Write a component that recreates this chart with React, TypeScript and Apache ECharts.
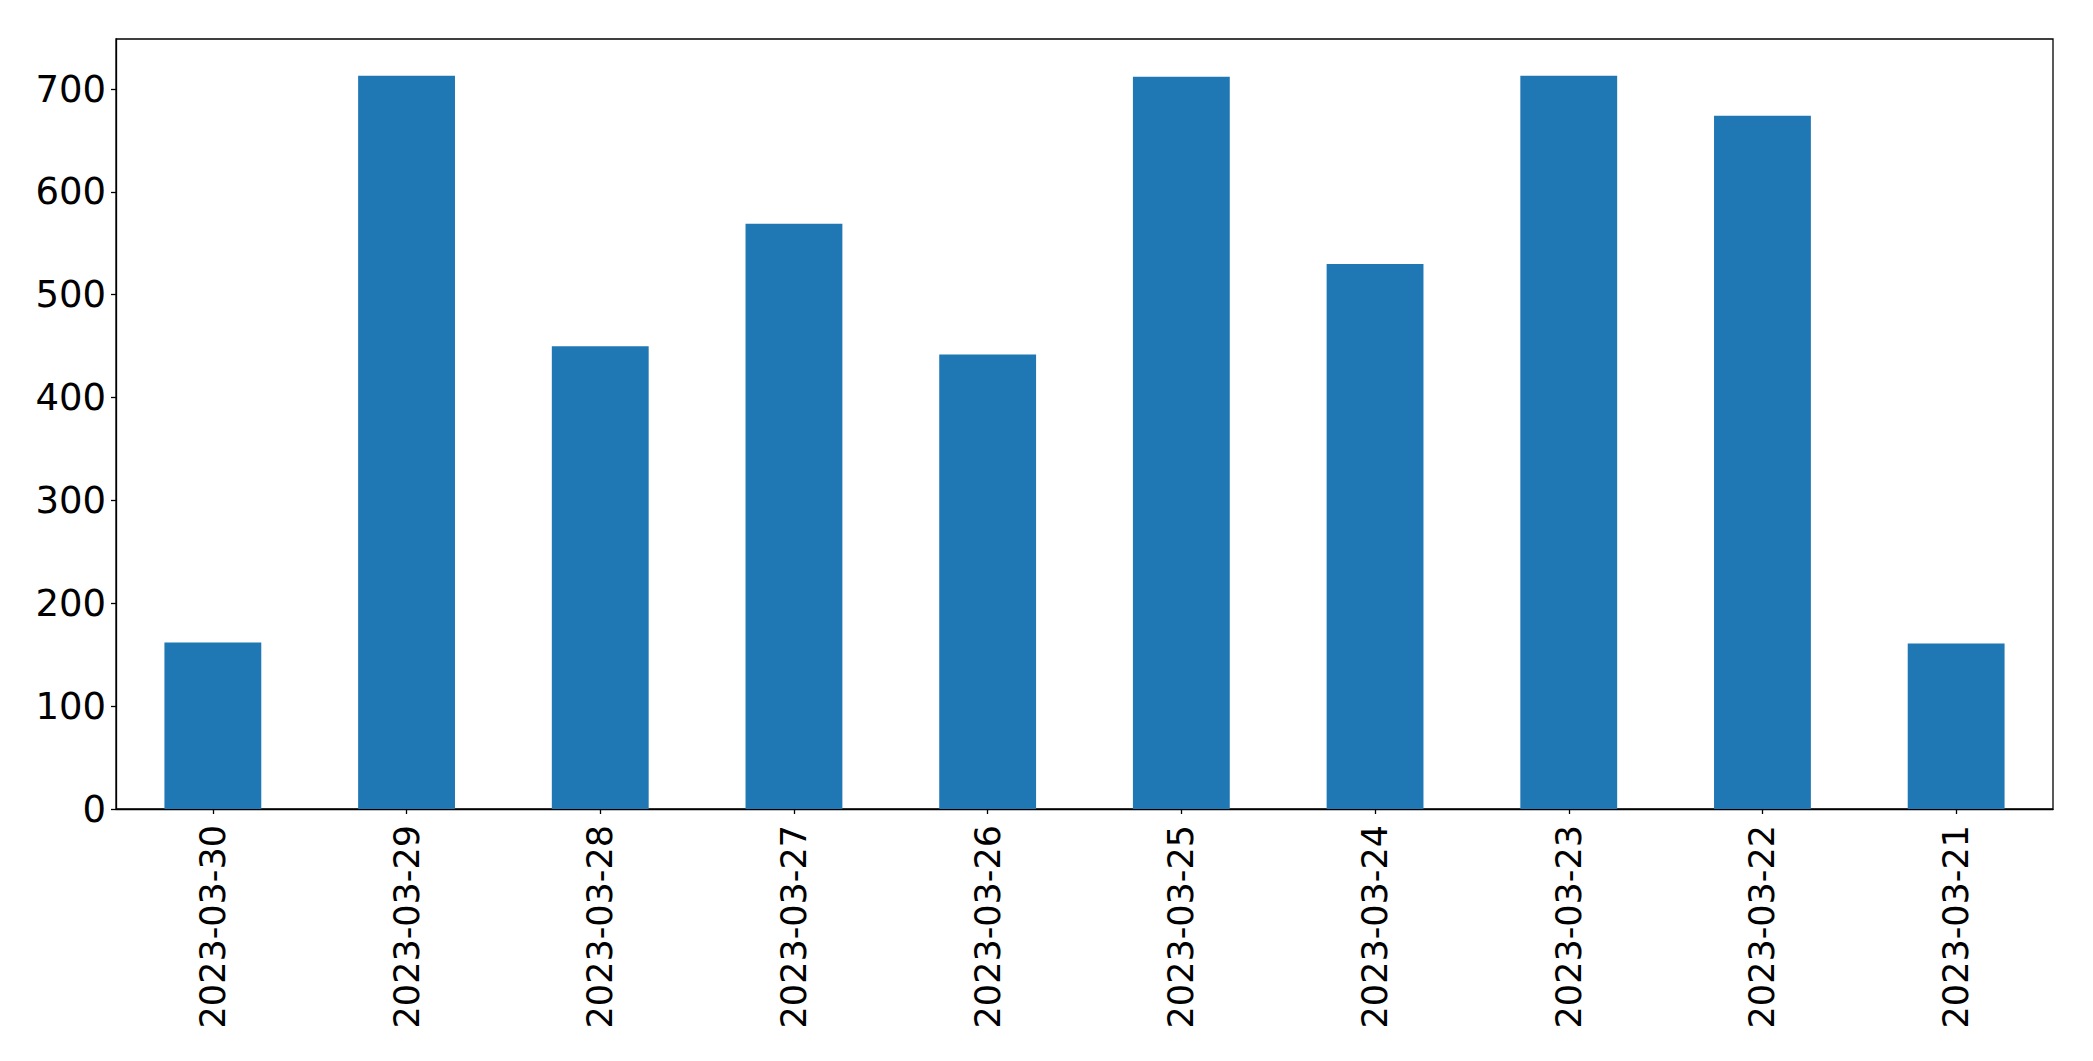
import React, { useEffect, useRef } from "react";
import * as echarts from "echarts";

const categories = [
  "2023-03-30",
  "2023-03-29",
  "2023-03-28",
  "2023-03-27",
  "2023-03-26",
  "2023-03-25",
  "2023-03-24",
  "2023-03-23",
  "2023-03-22",
  "2023-03-21",
];
const values = [162, 713, 450, 569, 442, 712, 530, 713, 674, 161];
const yTickValues = [0, 100, 200, 300, 400, 500, 600, 700];

export default function App() {
  const ref = useRef<HTMLDivElement>(null);
  useEffect(() => {
    if (!ref.current) return;
    const chart = echarts.init(ref.current, null, { renderer: "svg" });
    const yMax = Math.max(...values) * 1.05;
    chart.setOption({
      animation: false,
      backgroundColor: "#ffffff",
      textStyle: { fontFamily: "DejaVu Sans" },
      grid: {
        left: 116,
        right: 40,
        top: 39,
        bottom: 252,
        show: true,
        borderColor: "#000000",
        borderWidth: 1.3,
        backgroundColor: "transparent",
      },
      xAxis: {
        type: "category",
        data: categories,
        boundaryGap: true,
        axisLine: { show: true, lineStyle: { color: "#000000", width: 1.3 } },
        axisTick: {
          show: true,
          alignWithLabel: true,
          length: 5,
          lineStyle: { color: "#000000", width: 1.3 },
        },
        axisLabel: {
          rotate: 90,
          fontSize: 35,
          color: "#000000",
          fontFamily: "DejaVu Sans",
          margin: 16,
          interval: 0,
        },
        splitLine: { show: false },
      },
      yAxis: {
        type: "value",
        min: 0,
        max: yMax,
        interval: 100,
        axisLine: { show: true, lineStyle: { color: "#000000", width: 1.3 } },
        axisTick: {
          show: true,
          length: 5,
          lineStyle: { color: "#000000", width: 1.3 },
        },
        axisLabel: {
          fontSize: 37,
          color: "#000000",
          fontFamily: "DejaVu Sans",
          margin: 10,
          showMaxLabel: false,
          formatter: (v: number) => (yTickValues.includes(v) ? String(v) : ""),
        },
        splitLine: { show: false },
      },
      series: [
        {
          type: "bar",
          data: values,
          barWidth: "50%",
          itemStyle: { color: "#1f77b4" },
        },
      ],
    });
    return () => chart.dispose();
  }, []);
  return (
    <div
      ref={ref}
      style={{ position: "fixed", left: 0, top: 0, width: 2093, height: 1061 }}
    />
  );
}
